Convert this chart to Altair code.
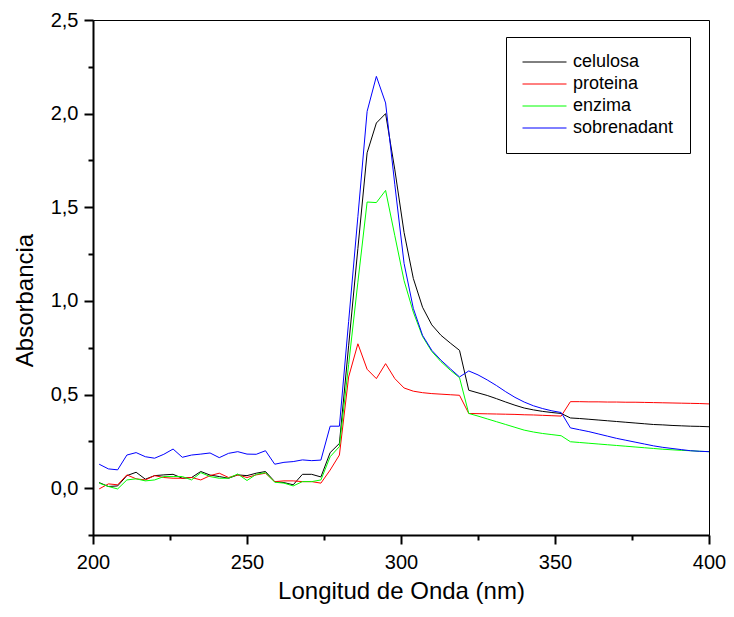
import altair as alt
import pandas as pd

wavelength = [202, 205, 208, 211, 214, 217, 220, 223, 226, 229, 232, 235, 238, 241, 244, 247,
              250, 253, 256, 259, 262, 265, 268, 271, 274, 277, 280, 283, 286, 289, 292, 295,
              298, 301, 304, 307, 310, 313, 316, 319, 322, 325, 328, 331, 334, 337, 340, 343,
              346, 349, 352, 355, 358, 361, 364, 367, 370, 373, 376, 379, 382, 385, 388, 391,
              394, 397, 400]

celulosa = [0.030, 0.009, 0.012, 0.067, 0.085, 0.048, 0.067, 0.071, 0.074, 0.053, 0.057, 0.089,
            0.070, 0.062, 0.053, 0.071, 0.067, 0.080, 0.089, 0.035, 0.030, 0.018, 0.074, 0.074,
            0.060, 0.190, 0.239,
            0.76, 1.28, 1.791, 1.95, 2.0, 1.70, 1.365, 1.12, 0.966, 0.872, 0.816, 0.775, 0.736, 0.523,
            0.509, 0.495, 0.478, 0.46, 0.443, 0.428, 0.418, 0.41, 0.404, 0.399, 0.375, 0.372, 0.368,
            0.364, 0.36, 0.356, 0.352, 0.348, 0.344, 0.34, 0.338, 0.335, 0.333, 0.331, 0.33, 0.328]

proteina = [-0.004, 0.023, 0.018, 0.071, 0.050, 0.044, 0.067, 0.057, 0.053, 0.053, 0.057, 0.044,
            0.067, 0.080, 0.057, 0.071, 0.057, 0.071, 0.080, 0.035, 0.039, 0.039, 0.035, 0.035,
            0.027, 0.097, 0.177,
            0.594, 0.771, 0.635, 0.585, 0.665, 0.585, 0.535, 0.518, 0.510, 0.505, 0.502, 0.499, 0.496, 0.399,
            0.398, 0.397, 0.396, 0.395, 0.394, 0.392, 0.391, 0.389, 0.387, 0.385, 0.462, 0.462, 0.461,
            0.461, 0.460, 0.460, 0.459, 0.459, 0.458, 0.457, 0.456, 0.455, 0.454, 0.453, 0.452, 0.450]

enzima = [0.027, 0.009, -0.004, 0.044, 0.050, 0.039, 0.044, 0.062, 0.062, 0.062, 0.044, 0.083,
          0.062, 0.053, 0.053, 0.076, 0.041, 0.074, 0.083, 0.032, 0.027, 0.012, 0.035, 0.035,
          0.044, 0.168, 0.222,
          0.66, 1.10, 1.528, 1.525, 1.59, 1.348, 1.108, 0.94, 0.81, 0.73, 0.675, 0.63, 0.59, 0.399,
          0.385, 0.37, 0.355, 0.34, 0.325, 0.31, 0.30, 0.292, 0.286, 0.28, 0.248, 0.244, 0.24,
          0.236, 0.232, 0.228, 0.224, 0.22, 0.216, 0.212, 0.208, 0.205, 0.202, 0.2, 0.197, 0.195]

sobrenadant = [0.128, 0.103, 0.098, 0.177, 0.190, 0.168, 0.160, 0.181, 0.209, 0.165, 0.177, 0.182,
               0.188, 0.163, 0.186, 0.195, 0.182, 0.181, 0.200, 0.128, 0.138, 0.142, 0.151, 0.147,
               0.150, 0.331, 0.331,
               0.89, 1.45, 2.012, 2.199, 2.057, 1.62, 1.2, 0.96, 0.816, 0.736, 0.683, 0.638, 0.594, 0.626,
               0.605, 0.578, 0.548, 0.515, 0.485, 0.46, 0.44, 0.425, 0.413, 0.404, 0.322, 0.312, 0.302,
               0.29, 0.278, 0.266, 0.256, 0.246, 0.236, 0.226, 0.218, 0.212, 0.206, 0.2, 0.197, 0.195]

series_names = ["celulosa", "proteina", "enzima", "sobrenadant"]
series_colors = ["#000000", "#ff0000", "#00ff00", "#0000ff"]
y_ticks = [-0.25, 0.0, 0.25, 0.5, 0.75, 1.0, 1.25, 1.5, 1.75, 2.0, 2.25, 2.5]
x_ticks = [200, 225, 250, 275, 300, 325, 350, 375, 400]

rows = []
for name, vals in zip(series_names, [celulosa, proteina, enzima, sobrenadant]):
    for w, v in zip(wavelength, vals):
        rows.append({"wl": w, "absorb": v, "serie": name})
df = pd.DataFrame(rows)

FONT = "Liberation Sans"
minor_y = "abs(datum.value*2 - round(datum.value*2)) > 0.01"
minor_x = "datum.value % 50 != 0"

chart = alt.Chart(df).mark_line(strokeWidth=1).encode(
    x=alt.X("wl:Q", scale=alt.Scale(domain=[200, 400], nice=False, zero=False),
            axis=alt.Axis(title="Longitud de Onda (nm)", values=x_ticks,
                          labelExpr="datum.value % 50 == 0 ? datum.label : ''",
                          labelFlush=False, labelOverlap=False,
                          tickSize={"condition": {"test": minor_x, "value": 5}, "value": 9},
                          labelPadding=8, titlePadding=7)),
    y=alt.Y("absorb:Q", scale=alt.Scale(domain=[-0.25, 2.5], nice=False, zero=False),
            axis=alt.Axis(title="Absorbancia", values=y_ticks,
                          labelExpr=minor_y + " ? '' : replace(format(datum.value, '.1f'), '.', ',')",
                          labelFlush=False, labelOverlap=False,
                          tickSize={"condition": {"test": minor_y, "value": 5}, "value": 9},
                          labelPadding=6, titlePadding=13, titleY=280)),
    color=alt.Color("serie:N", sort=series_names,
                    scale=alt.Scale(domain=series_names, range=series_colors),
                    legend=alt.Legend(title=None, orient="none", legendX=413, legendY=17,
                                      symbolType="stroke", symbolSize=1936, symbolStrokeWidth=1,
                                      labelFont=FONT, labelFontSize=18, labelColor="black",
                                      strokeColor="black", fillColor="white", padding=16,
                                      clipHeight=18, rowPadding=4, labelOffset=6)),
    order=alt.Order("wl:Q"),
).properties(
    width=616, height=515,
    autosize=alt.AutoSizeParams(type="none"),
    padding={"left": 85, "top": 12, "right": 17, "bottom": 74},
).configure_view(
    stroke="black", strokeWidth=1
).configure_axis(
    domainColor="black", domainWidth=2, tickColor="black", tickWidth=2,
    labelFont=FONT, labelFontSize=20, labelColor="black",
    titleFont=FONT, titleFontSize=24, titleFontWeight="normal", titleColor="black",
    grid=False
)

chart.save("out.html", embed_options={"renderer": "svg", "actions": False})
